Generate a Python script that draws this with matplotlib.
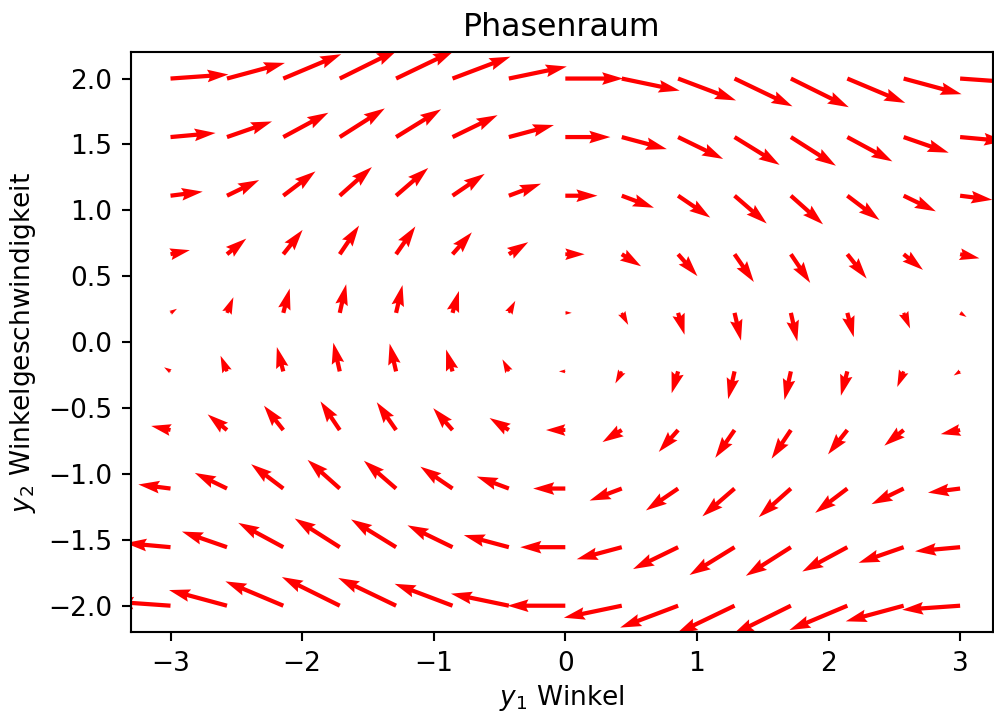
import numpy as np
import matplotlib
matplotlib.use("Agg")
import matplotlib.pyplot as plt

# Gitter im Phasenraum
y1_werte = [-3.0, -2.571, -2.143, -1.714, -1.286, -0.857, -0.429, 0.0,
            0.429, 0.857, 1.286, 1.714, 2.143, 2.571, 3.0]
y2_werte = [-2.0, -1.556, -1.111, -0.667, -0.222, 0.222, 0.667, 1.111, 1.556, 2.0]

# Ableitungen: dy1/dt pro Zeile, dy2/dt pro Spalte
dy1_zeile = [-2.0, -1.556, -1.111, -0.667, -0.222, 0.222, 0.667, 1.111, 1.556, 2.0]
dy2_spalte = [0.141, 0.540, 0.841, 0.990, 0.960, 0.756, 0.416, 0.0,
              -0.416, -0.756, -0.960, -0.990, -0.841, -0.540, -0.141]

Y1, Y2 = np.meshgrid(y1_werte, y2_werte)
V, U = np.meshgrid(dy2_spalte, dy1_zeile)

fig = plt.figure(figsize=(995 / 190, 715 / 190), dpi=190)
ax = fig.add_axes([0.1317, 0.116, 0.8663, 0.811])
ax.quiver(Y1, Y2, U, V, color='r')
ax.set_xlabel('$y_1$ Winkel', labelpad=2.5)
ax.set_ylabel('$y_2$ Winkelgeschwindigkeit')
ax.set_title('Phasenraum')
ax.set_xlim(-3.3, 3.25)
ax.set_ylim(-2.2, 2.2)
fig.savefig('out.png', dpi=190)
